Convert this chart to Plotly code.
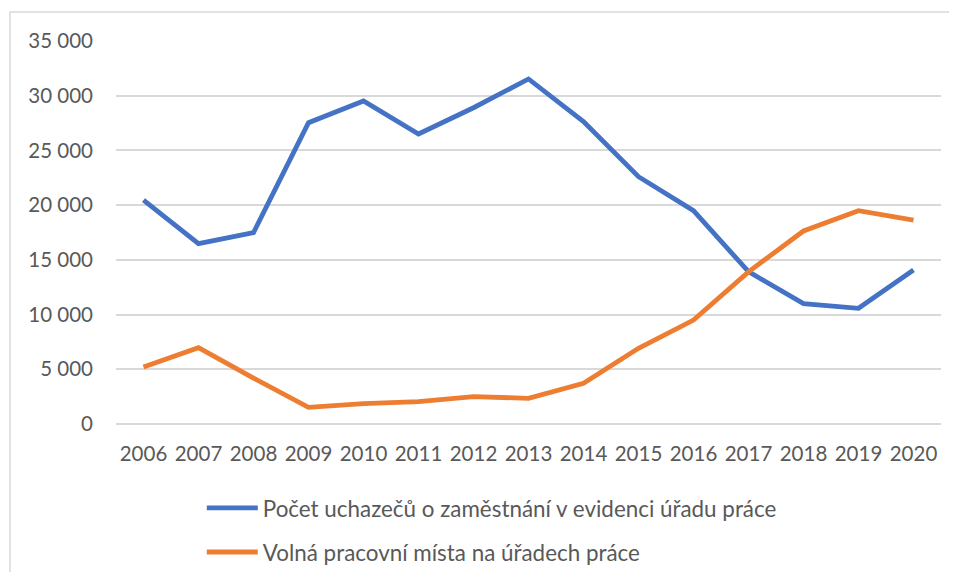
import plotly.graph_objects as go

years = [str(y) for y in range(2006, 2021)]
uchazeci = [20450, 16480, 17480, 27530, 29520, 26500, 28900, 31530,
            27630, 22600, 19490, 13920, 11000, 10570, 14070]
volna_mista = [5210, 6970, 4200, 1520, 1870, 2040, 2500, 2350,
               3720, 6920, 9500, 13900, 17640, 19490, 18640]

name_u = "Počet uchazečů o zaměstnání v evidenci úřadu práce"
name_v = "Volná pracovní místa na úřadech práce"

font = "Lato, 'Open Sans', sans-serif"
grey = "#595959"

fig = go.Figure()
fig.add_trace(go.Scatter(x=years, y=uchazeci, mode="lines", name=name_u,
                         legendgroup="u",
                         line=dict(color="#4472C4", width=4.8)))
fig.add_trace(go.Scatter(x=years, y=volna_mista, mode="lines", name=name_v,
                         legendgroup="v",
                         line=dict(color="#ED7D31", width=4.8)))

# chart frame (light grey border, left and top edges visible)
fig.add_shape(type="rect", xref="paper", yref="paper",
              x0=-0.1285, x1=1.1, y0=-0.5, y1=1.0757,
              line=dict(color="#d9d9d9", width=1.5), layer="below")

# page body has an 8px margin, so the figure is sized to fit inside it
fig.update_layout(
    template="none",
    width=941, height=564,
    margin=dict(l=108, r=8, t=33, b=148, autoexpand=False),
    paper_bgcolor="white", plot_bgcolor="white",
    separators=", ",
    font=dict(family=font, size=20, color=grey),
    showlegend=True,
    legend=dict(x=0.104, y=-0.164, xanchor="left", yanchor="top",
                orientation="v", traceorder="grouped", tracegroupgap=12,
                itemwidth=51,
                font=dict(size=22.4, color=grey),
                bgcolor="rgba(0,0,0,0)"),
)
fig.update_xaxes(type="category", range=[-0.5, 14.5], showgrid=False,
                 showline=False, ticks="", ticklabelstandoff=15,
                 automargin=False, tickfont=dict(size=20.5, color=grey))
fig.update_yaxes(range=[0, 35000], dtick=5000, tickformat=",d",
                 showgrid=True, gridcolor="#d9d9d9", gridwidth=1.5,
                 zeroline=True, zerolinecolor="#d9d9d9", zerolinewidth=1.5,
                 showline=False, ticks="", ticklabelstandoff=22,
                 automargin=False, tickfont=dict(size=20.5, color=grey))

fig.write_html("out.html")
